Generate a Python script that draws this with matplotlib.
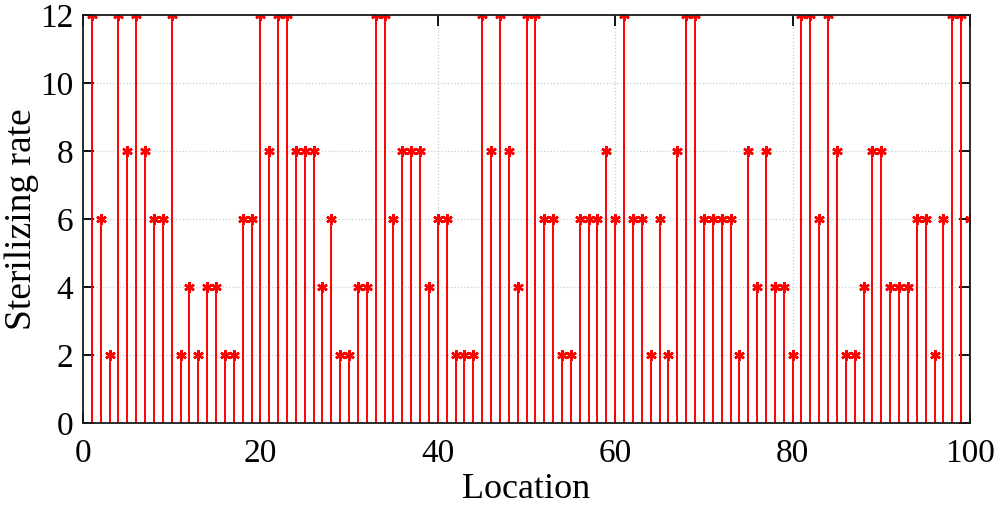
import matplotlib
matplotlib.use("Agg")
import matplotlib.pyplot as plt
import numpy as np

locations = list(range(1, 101))
rates = [12, 6, 2, 12, 8, 12, 8, 6, 6, 12,
         2, 4, 2, 4, 4, 2, 2, 6, 6, 12,
         8, 12, 12, 8, 8, 8, 4, 6, 2, 2,
         4, 4, 12, 12, 6, 8, 8, 8, 4, 6,
         6, 2, 2, 2, 12, 8, 12, 8, 4, 12,
         12, 6, 6, 2, 2, 6, 6, 6, 8, 6,
         12, 6, 6, 2, 6, 2, 8, 12, 12, 6,
         6, 6, 6, 2, 8, 4, 8, 4, 4, 2,
         12, 12, 6, 12, 8, 2, 2, 4, 8, 8,
         4, 4, 4, 6, 6, 2, 6, 12, 12, 6]
xticks = [0, 20, 40, 60, 80, 100]
yticks = [0, 2, 4, 6, 8, 10, 12]

plt.rcParams['font.family'] = ['Liberation Serif', 'DejaVu Serif']
plt.rcParams['mathtext.fontset'] = 'stix'

fig = plt.figure(figsize=(10, 5.09), dpi=100)
ax = fig.add_axes([0.083, 0.1684, 0.887, 0.8016])

ml, sl, bl = ax.stem(locations, rates, linefmt='-', markerfmt='*', basefmt=' ')
plt.setp(sl, color='#ff0000', linewidth=1.4)
plt.setp(ml, color='#ff0000', marker=(6, 2, 0), markersize=7.5, markeredgewidth=1.8)

ax.set_xlim(0, 100)
ax.set_ylim(0, 12)
ax.set_xticks(xticks)
ax.set_yticks(yticks)
ax.grid(True, linestyle=':', color='#c5cfcf', linewidth=0.9)
ax.set_axisbelow(True)
ax.tick_params(direction='in', length=8, width=1.3, top=True, right=True,
               labelsize=24, colors='black')
ax.tick_params(axis='x', pad=11)
ax.tick_params(axis='y', pad=7)
for s in ax.spines.values():
    s.set_linewidth(1.3)
    s.set_color('#1a1a1a')
ax.set_xlabel('Location', fontsize=26, labelpad=3)
ax.set_ylabel('Sterilizing rate', fontsize=27, labelpad=1)

fig.savefig('out.png', dpi=100)
